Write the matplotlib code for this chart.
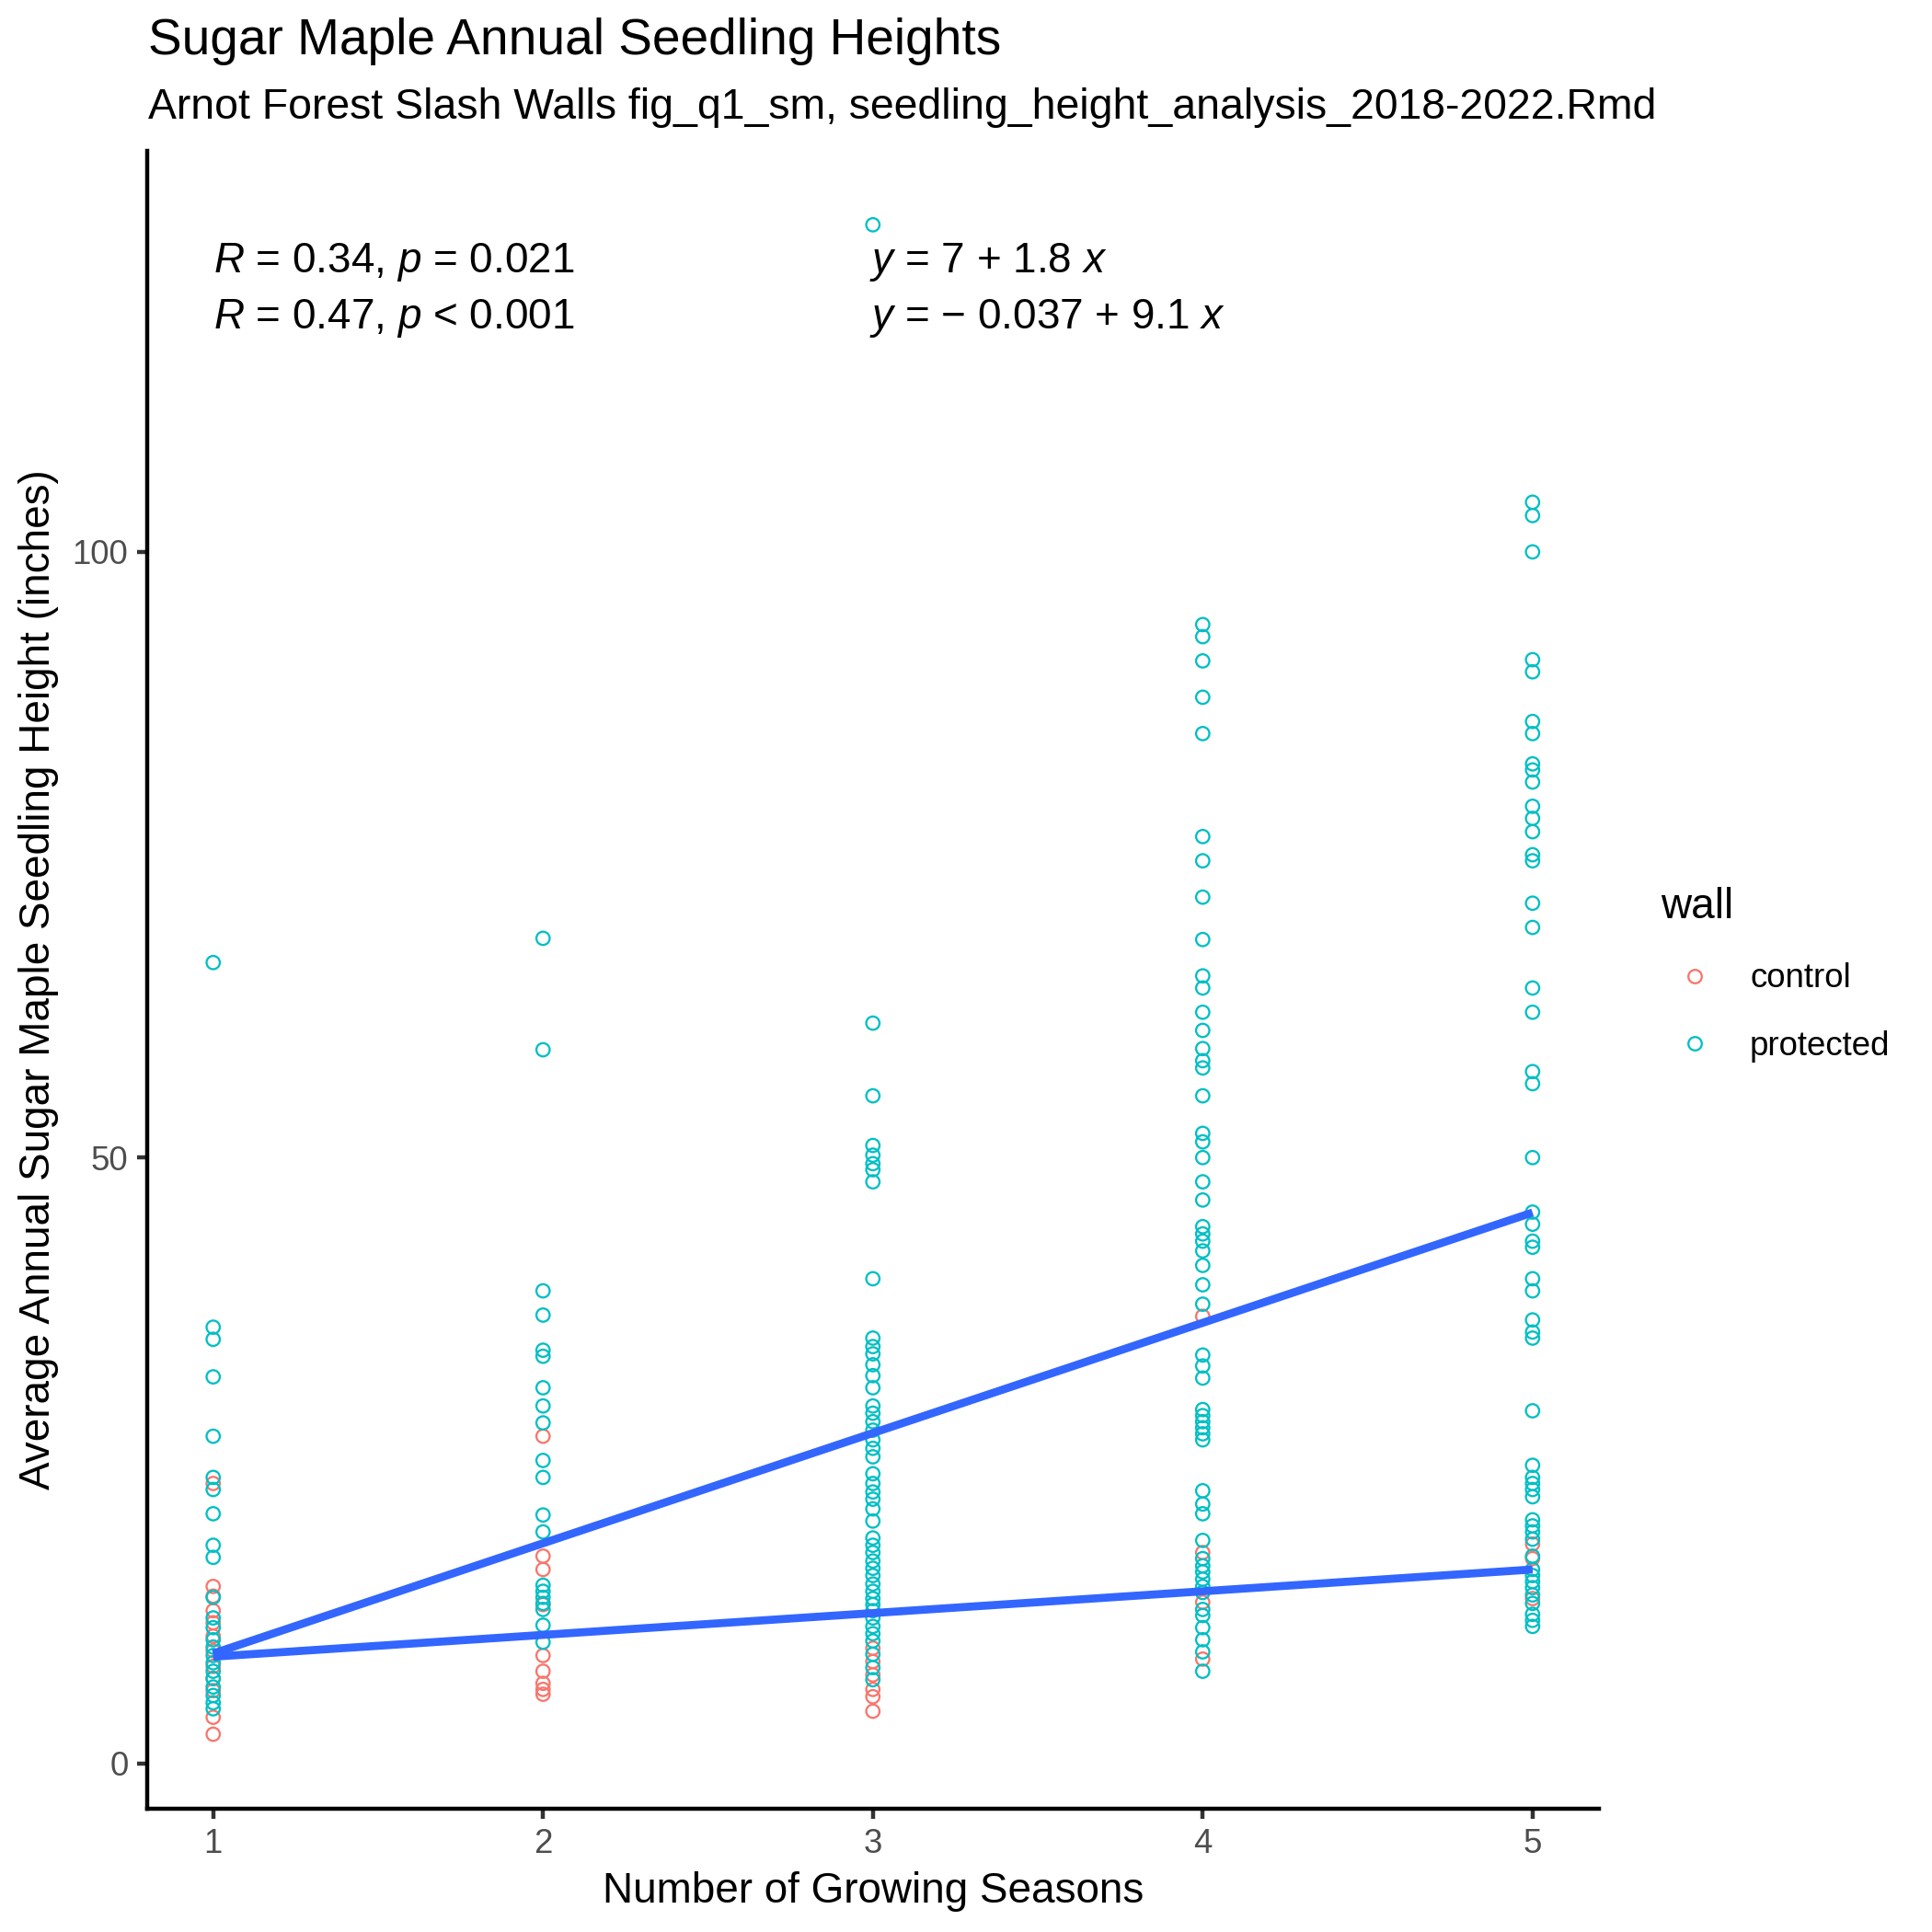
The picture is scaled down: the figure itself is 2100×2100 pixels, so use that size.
import numpy as np
import matplotlib
matplotlib.use('Agg')
import matplotlib.pyplot as plt
from matplotlib.lines import Line2D

plt.rcParams['font.family'] = ['Liberation Sans', 'DejaVu Sans']
plt.rcParams['mathtext.fontset'] = 'custom'
plt.rcParams['mathtext.rm'] = 'Liberation Sans'
plt.rcParams['mathtext.it'] = 'Liberation Sans:italic'

# data (height in inches per season)
seasons = [1, 2, 3, 4, 5]
control_heights = [
    [23.1, 14.6, 13.8, 12.6, 11.6, 10.5, 9.3, 8.0, 7.0, 6.0, 3.8, 2.4],
    [27.0, 17.1, 16.0, 13.1, 8.9, 7.6, 6.6, 6.1, 5.7],
    [9.5, 8.4, 7.3, 6.1, 5.5, 4.3],
    [36.9, 17.4, 13.3, 8.6],
    [18.1, 16.9, 13.6],
]
protected_heights = [
    [66.1, 36.0, 35.0, 31.9, 27.0, 23.6, 22.6, 20.6, 18.0, 17.0, 13.7, 12.0, 11.2,
     10.2, 9.6, 8.9, 8.3, 7.6, 7.0, 6.3, 5.6, 5.0, 4.5],
    [68.1, 58.9, 39.0, 37.0, 34.1, 33.6, 31.0, 29.5, 28.1, 25.0, 23.6, 20.5, 19.1,
     14.7, 14.2, 13.7, 13.2, 12.7, 11.4, 10.0],
    [127.0, 61.1, 55.1, 51.0, 50.2, 49.5, 49.0, 48.0, 40.0, 35.1, 34.4, 33.8, 32.9,
     32.0, 31.0, 29.5, 28.9, 28.2, 27.5, 26.7, 26.0, 25.3, 23.9, 23.1, 22.4, 21.8,
     21.0, 20.0, 18.6, 18.0, 17.4, 16.7, 16.1, 15.5, 14.8, 14.2, 13.6, 13.1, 12.6,
     12.0, 11.3, 10.7, 10.1, 9.0, 7.9, 6.9],
    [94.0, 93.0, 91.0, 88.0, 85.0, 76.5, 74.5, 71.5, 68.0, 65.0, 64.0, 62.0, 60.5,
     59.0, 58.0, 57.4, 55.1, 52.0, 51.3, 50.0, 48.0, 46.5, 44.3, 43.7, 43.1, 42.3,
     41.1, 39.5, 37.9, 33.7, 32.8, 31.8, 29.2, 28.7, 28.2, 27.7, 27.2, 26.7, 22.5,
     21.4, 20.6, 18.4, 16.9, 16.3, 15.8, 15.2, 14.6, 14.1, 12.7, 12.2, 11.2, 10.2,
     9.2, 7.6],
    [104.1, 103.0, 100.0, 91.1, 90.1, 86.0, 85.0, 82.5, 82.0, 81.0, 79.0, 78.0, 76.9,
     75.0, 74.5, 71.0, 69.0, 64.0, 62.0, 57.1, 56.1, 50.0, 45.5, 44.5, 43.1, 42.6,
     40.0, 39.0, 36.6, 35.6, 35.1, 29.1, 24.6, 23.6, 23.1, 22.6, 22.0, 20.1, 19.6,
     19.1, 18.5, 17.1, 16.0, 15.5, 15.0, 14.5, 13.9, 13.2, 12.3, 11.8, 11.3],
]
groups = ['control', 'protected']
group_colors = ['#F8766D', '#00BFC4']
fit_intercepts = [7, -0.037]
fit_slopes = [1.8, 9.1]
cor_labels = [r'$\it{R}$ = 0.34, $\it{p}$ = 0.021', r'$\it{R}$ = 0.47, $\it{p}$ < 0.001']
eq_labels = [r'$\it{y}$ = 7 + 1.8 $\it{x}$', '$\\it{y}$ = \u2212 0.037 + 9.1 $\\it{x}$']

fig = plt.figure(figsize=(7, 7), dpi=300)
ax = fig.add_axes([0.0762, 0.0638, 0.7512, 0.8581])

for gi, data in enumerate([control_heights, protected_heights]):
    xs = []
    ys = []
    for s, vals in zip(seasons, data):
        xs += [s] * len(vals)
        ys += vals
    ax.scatter(xs, ys, s=12, facecolors='none', edgecolors=group_colors[gi],
               linewidths=0.55, zorder=2)

# regression lines
xl = np.array([seasons[0], seasons[-1]])
for b0, b1 in zip(fit_intercepts, fit_slopes):
    ax.plot(xl, b0 + b1 * xl, color='#3366FF', lw=2.1, zorder=3, solid_capstyle='butt')

for i in range(2):
    ax.text(1, 123.9 - 4.6 * i, cor_labels[i], fontsize=11.0, ha='left', va='center')
    ax.text(2.99, 123.9 - 4.6 * i, eq_labels[i], fontsize=11.0, ha='left', va='center')

ax.set_xlim(0.8, 5.2)
ax.set_ylim(-3.75, 133.1)
ax.set_xticks(seasons)
ax.set_yticks([0, 50, 100])
for sp in ['top', 'right']:
    ax.spines[sp].set_visible(False)
for sp in ['left', 'bottom']:
    ax.spines[sp].set_linewidth(1.07)
ax.tick_params(axis='both', length=2.75, width=1.07, color='#333333',
               labelsize=8.8, labelcolor='#4D4D4D', pad=2.2)
ax.set_xlabel('Number of Growing Seasons', fontsize=11, labelpad=3)
ax.set_ylabel('Average Annual Sugar Maple Seedling Height (inches)', fontsize=11, labelpad=3.5)

fig.text(0.0767, 0.9786, 'Sugar Maple Annual Seedling Heights', fontsize=13.2, va='center', ha='left')
fig.text(0.0767, 0.9443, 'Arnot Forest Slash Walls fig_q1_sm, seedling_height_analysis_2018-2022.Rmd',
         fontsize=11.15, va='center', ha='left')

handles = [Line2D([], [], marker='o', ls='none', markerfacecolor='none',
                  markeredgecolor=c, markersize=3.5, markeredgewidth=0.55) for c in group_colors]
leg = fig.legend(handles, groups, title='wall', loc='upper left', bbox_to_anchor=(0.8525, 0.548),
                 frameon=False, fontsize=8.8, title_fontsize=11, labelspacing=1.05,
                 handletextpad=0.65, alignment='left', borderaxespad=0)

fig.savefig('out.png', dpi=300)
